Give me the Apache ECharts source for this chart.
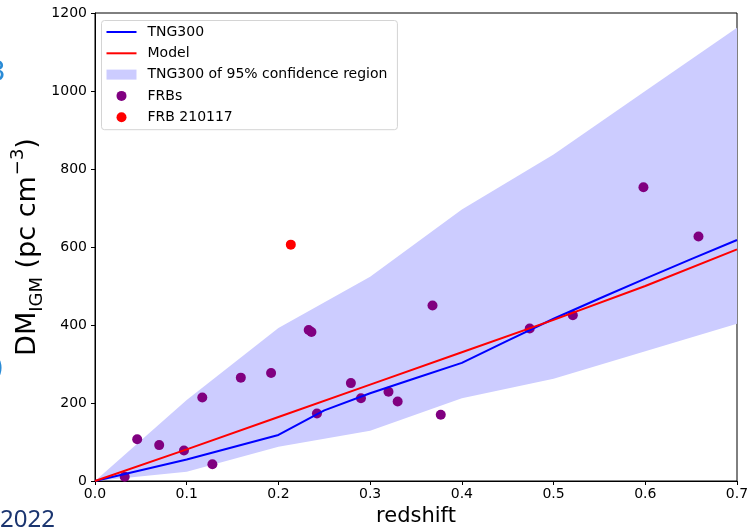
<!DOCTYPE html>
<html>
<head>
<meta charset="utf-8">
<script src="https://cdn.jsdelivr.net/npm/echarts@6/dist/echarts.min.js"></script>
<style>
  html, body { margin: 0; padding: 0; background: #ffffff; }
  #chart { width: 749px; height: 530px; }
</style>
</head>
<body>
<div id="chart"></div>
<script>
// Observed FRBs with host redshifts
const frbZ  = [0.0324, 0.046, 0.070, 0.097, 0.117, 0.128, 0.159, 0.192, 0.233, 0.236, 0.242,
               0.279, 0.290, 0.320, 0.330, 0.368, 0.377, 0.474, 0.521, 0.598, 0.658];
const frbDM = [11, 107, 92, 78, 214, 43, 265, 277, 387, 382, 173,
               251, 212, 229, 204, 450, 170, 391, 425, 753, 627];

// FRB 210117
const frb210117Z  = [0.2135];
const frb210117DM = [606];

// TNG300 mean DM_IGM(z)
const tngZ  = [0, 0.1, 0.2, 0.25, 0.3, 0.35, 0.4, 0.45, 0.5, 0.55, 0.6, 0.65, 0.7];
const tngDM = [0, 55, 118, 181, 225, 264, 303, 360, 416, 468, 519, 569, 618];

// Model DM_IGM(z)
const modelZ  = [0, 0.1, 0.2, 0.3, 0.4, 0.5, 0.6, 0.7];
const modelDM = [0, 81, 164, 247, 330, 413, 500, 594];

// TNG300 95% confidence band
const bandZ    = [0, 0.1, 0.2, 0.3, 0.4, 0.5, 0.6, 0.7];
const bandLow  = [0, 24, 88, 129, 212, 262, 333, 403];
const bandHigh = [0, 208, 392, 524, 696, 837, 1000, 1162];

// Axis ticks
const xTicks = [0, 0.1, 0.2, 0.3, 0.4, 0.5, 0.6, 0.7];
const yTicks = [0, 200, 400, 600, 800, 1000, 1200];

const FONT = 'DejaVu Sans';
const zip = (a, b) => a.map((v, i) => [v, b[i]]);
// thin horizontal bar used as the legend sample for line series
const LINE_ICON = 'path://M0,0H30V2H0Z';

const chart = echarts.init(document.getElementById('chart'), null, { renderer: 'canvas' });

const option = {
  animation: false,
  backgroundColor: '#ffffff',
  textStyle: { fontFamily: FONT },
  grid: {
    left: 95, right: 12, top: 13, bottom: 49,
    containLabel: false, outerBoundsMode: 'none',
    show: true, borderColor: '#000000', borderWidth: 1, backgroundColor: 'transparent'
  },
  xAxis: {
    type: 'value',
    min: xTicks[0], max: xTicks[xTicks.length - 1], interval: 0.1,
    name: 'redshift', nameLocation: 'middle', nameGap: 25, nameMoveOverlap: false,
    nameTextStyle: { fontSize: 21, color: '#000', fontFamily: FONT, verticalAlign: 'top' },
    axisLine: { show: true, onZero: false, lineStyle: { color: '#000', width: 1 } },
    axisTick: { show: true, inside: false, length: 4, lineStyle: { color: '#000', width: 1 } },
    axisLabel: { formatter: v => v.toFixed(1), fontSize: 14, color: '#000', margin: 6, fontFamily: FONT },
    splitLine: { show: false }
  },
  yAxis: {
    type: 'value',
    min: yTicks[0], max: yTicks[yTicks.length - 1], interval: 200,
    name: '{m|DM}{s|IGM}{m| (pc cm}{u|−3}{m|)}',
    nameLocation: 'middle', nameGap: 47, nameRotate: 90, nameMoveOverlap: false,
    nameTextStyle: {
      color: '#000', fontFamily: FONT,
      rich: {
        m: { fontSize: 27, lineHeight: 40, color: '#000', fontFamily: FONT },
        s: { fontSize: 18, lineHeight: 18, verticalAlign: 'bottom', padding: [0, 0, 2, 0], color: '#000', fontFamily: FONT },
        u: { fontSize: 18, lineHeight: 18, verticalAlign: 'top', padding: [1, 0, 0, 1], color: '#000', fontFamily: FONT }
      }
    },
    axisLine: { show: true, onZero: false, lineStyle: { color: '#000', width: 1 } },
    axisTick: { show: true, inside: false, length: 4, lineStyle: { color: '#000', width: 1 } },
    axisLabel: { formatter: v => String(v), fontSize: 14, color: '#000', margin: 8, fontFamily: FONT },
    splitLine: { show: false }
  },
  legend: {
    orient: 'vertical', left: 101.5, top: 20.5,
    itemWidth: 30, itemHeight: 10, itemGap: 5.3,
    padding: [3.5, 10, 4.5, 5],
    symbolKeepAspect: true,
    backgroundColor: 'rgba(255,255,255,0.8)', borderColor: '#d4d4d4', borderWidth: 1, borderRadius: 3,
    textStyle: { fontSize: 14, color: '#000', fontFamily: FONT, lineHeight: 16, padding: [0, 0, 0, 6] },
    data: [
      { name: 'TNG300', icon: LINE_ICON },
      { name: 'Model', icon: LINE_ICON },
      { name: 'TNG300 of 95% confidence region', icon: 'rect' },
      { name: 'FRBs', icon: 'circle' },
      { name: 'FRB 210117', icon: 'circle' }
    ]
  },
  graphic: [
    { type: 'text', left: 0, top: 508, silent: true,
      style: { text: '2022', fontSize: 24, fill: '#1b3570', fontFamily: 'Noto Sans' } },
    { type: 'text', x: -12, y: 60, silent: true,
      style: { text: '3', fontSize: 28, fill: '#2a8bd6', fontFamily: FONT } },
    { type: 'text', x: -7, y: 356, silent: true,
      style: { text: ')', fontSize: 28, fill: '#2a8bd6', fontFamily: FONT } }
  ],
  series: [
    {
      name: 'TNG300 of 95% confidence region',
      type: 'custom',
      z: 1,
      silent: true,
      itemStyle: { color: '#ccccff' },
      data: [[0, 0]],
      renderItem: (params, api) => {
        const pts = [];
        for (let i = 0; i < bandZ.length; i++) pts.push(api.coord([bandZ[i], bandHigh[i]]));
        for (let i = bandZ.length - 1; i >= 0; i--) pts.push(api.coord([bandZ[i], bandLow[i]]));
        return { type: 'polygon', shape: { points: pts }, style: { fill: '#ccccff' } };
      }
    },
    {
      name: 'FRBs', type: 'scatter', z: 2,
      symbol: 'circle', symbolSize: 10,
      itemStyle: { color: '#800080', opacity: 1 },
      data: zip(frbZ, frbDM)
    },
    {
      name: 'FRB 210117', type: 'scatter', z: 2,
      symbol: 'circle', symbolSize: 10,
      itemStyle: { color: '#ff0000', opacity: 1 },
      data: zip(frb210117Z, frb210117DM)
    },
    {
      name: 'TNG300', type: 'line', z: 3,
      symbol: 'none', showSymbol: false,
      lineStyle: { color: '#0000ff', width: 2 },
      itemStyle: { color: '#0000ff' },
      data: zip(tngZ, tngDM)
    },
    {
      name: 'Model', type: 'line', z: 3,
      symbol: 'none', showSymbol: false,
      lineStyle: { color: '#ff0000', width: 2 },
      itemStyle: { color: '#ff0000' },
      data: zip(modelZ, modelDM)
    }
  ]
};

chart.setOption(option);
</script>
</body>
</html>
